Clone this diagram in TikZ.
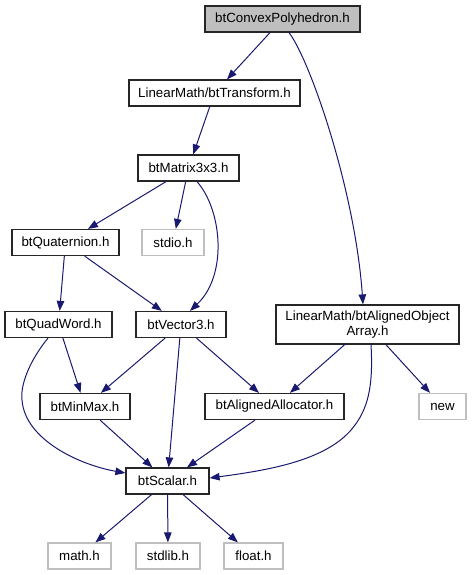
\documentclass[tikz,border=0pt]{standalone}
\usepackage{fontspec}
\setmainfont{Liberation Sans}
\usetikzlibrary{arrows.meta}
\definecolor{edgeblue}{HTML}{191970}
\definecolor{lgray}{HTML}{BFBFBF}
\tikzset{
  box/.style={draw=black!85, line width=1.2pt, fill=white, inner sep=0pt, minimum height=26pt,
    font=\fontsize{13.3}{14.5}\selectfont, align=center},
  extbox/.style={box, draw=lgray},
  rootbox/.style={box, fill=lgray},
  dep/.style={draw=edgeblue, line width=1pt, -{Triangle[length=10pt,width=7.5pt]}}
}
\begin{document}
\begin{tikzpicture}[x=1pt,y=-1pt]
\useasboundingbox (0,0) rectangle (471,575);
\node[rootbox, minimum width=155pt] (conv) at (282.5,19) {btConvexPolyhedron.h};
\node[box, minimum width=171pt] (trans) at (214.5,93) {LinearMath/btTransform.h};
\node[box, minimum width=101pt] (mat) at (188.5,168) {btMatrix3x3.h};
\node[box, minimum width=107pt] (quat) at (65.5,242.5) {btQuaternion.h};
\node[extbox, minimum width=62pt] (stdio) at (173,242.5) {stdio.h};
\node[box, minimum width=107pt] (quad) at (58.5,324.5) {btQuadWord.h};
\node[box, minimum width=90pt] (vec) at (181,324.5) {btVector3.h};
\node[box, minimum width=183pt, minimum height=39pt] (arr) at (367.5,324.5) {LinearMath/btAlignedObject\\Array.h};
\node[box, minimum width=90pt] (minmax) at (85,406.5) {btMinMax.h};
\node[box, minimum width=139pt] (alloc) at (274.5,406.5) {btAlignedAllocator.h};
\node[extbox, minimum width=47pt] (new) at (442.5,406.5) {new};
\node[box, minimum width=83pt] (scalar) at (167.5,481) {btScalar.h};
\node[extbox, minimum width=63pt] (math) at (79.5,556) {math.h};
\node[extbox, minimum width=64pt] (stdlib) at (168,556) {stdlib.h};
\node[extbox, minimum width=59pt] (float) at (253.5,556) {float.h};

\draw[dep] (conv) -- (trans);
\draw[dep] ([xshift=6.5pt]conv.south) .. controls (310,60) and (355,190) .. ([xshift=-4.5pt]arr.north);
\draw[dep] (trans) -- (mat);
\draw[dep] (mat) -- (quat);
\draw[dep] (mat) -- (stdio);
\draw[dep] ([xshift=8.5pt]mat.south) .. controls (222,210) and (228,275) .. ([xshift=9pt]vec.north);
\draw[dep] (quat) -- (quad);
\draw[dep] (quat) -- (vec);
\draw[dep] (quad) -- (minmax);
\draw[dep] ([xshift=-10.5pt]quad.south) .. controls (30,360) and (20,385) .. (22,400) .. controls (25,440) and (80,465) .. ([yshift=8pt]scalar.west);
\draw[dep] (vec) -- (minmax);
\draw[dep] (vec) -- (scalar);
\draw[dep] (vec) -- (alloc);
\draw[dep] (arr) -- (alloc);
\draw[dep] ([xshift=3.5pt]arr.south) .. controls (373,380) and (370,405) .. (355,425) .. controls (330,460) and (270,470) .. ([yshift=3pt]scalar.east);
\draw[dep] (arr) -- (new);
\draw[dep] (minmax) -- (scalar);
\draw[dep] (alloc) -- (scalar);
\draw[dep] (scalar) -- (math);
\draw[dep] (scalar) -- (stdlib);
\draw[dep] (scalar) -- (float);
\end{tikzpicture}
\end{document}
